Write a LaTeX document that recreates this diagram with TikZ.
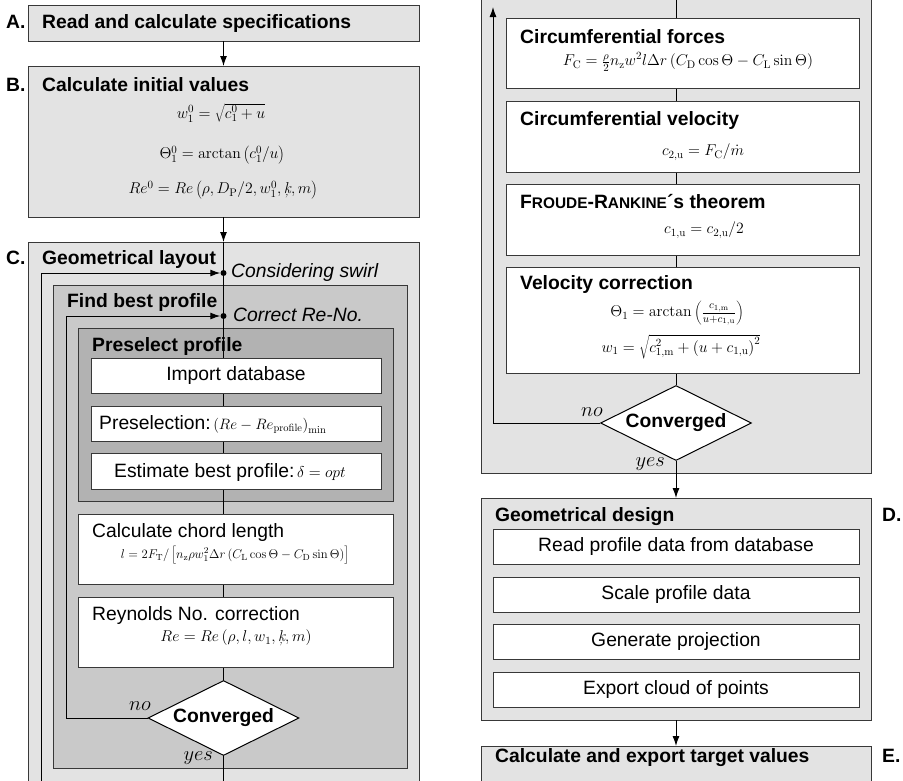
\RequirePackage{fix-cm}
\documentclass[tikz,border=0pt]{standalone}
\usepackage[no-math]{fontspec}
\setmainfont{Liberation Sans}
\usetikzlibrary{arrows.meta,shapes.geometric}
\definecolor{shadeA}{gray}{0.89}
\definecolor{shadeB}{gray}{0.79}
\definecolor{shadeC}{gray}{0.70}
\definecolor{edgegray}{gray}{0.22}
\newcommand{\txtsize}{\fontsize{19.3}{23}\selectfont}
\newcommand{\eqsize}{\fontsize{15.7}{19}\selectfont}
\newcommand{\ineqsize}{\fontsize{15}{18}\selectfont}
\newcommand{\smeqsize}{\fontsize{12.7}{15}\selectfont}
\newcommand{\capsize}{\fontsize{15.4}{18}\selectfont}
\newcommand{\roughk}{\hbox{\fontfamily{lmr}\itshape ķ}}
\pgfdeclarelayer{panels}
\pgfdeclarelayer{wires}
\pgfsetlayers{panels,wires,main}
\tikzset{
  panel/.style={rectangle, draw=edgegray, line width=1pt, anchor=north west, inner sep=0pt, outer sep=0pt},
  stepbox/.style={panel, fill=white, font=\txtsize},
  head/.style={anchor=base west, inner sep=0pt, font=\txtsize\bfseries},
  note/.style={anchor=base west, inner sep=0pt, font=\txtsize\itshape},
  plainlbl/.style={anchor=base west, inner sep=0pt, font=\txtsize},
  eq/.style={inner sep=0pt, font=\eqsize},
  flow/.style={line width=1pt, draw=black},
  arr/.style={flow, -{Latex[length=10pt,width=7pt]}},
  decision/.style={diamond, draw=black, line width=1pt, fill=white, aspect=2, inner sep=0pt,
    minimum width=151pt, minimum height=75pt, font=\txtsize\bfseries},
  branch/.style={inner sep=0pt, font=\fontsize{20.5}{24}\selectfont},
  joint/.style={circle, fill=black, inner sep=0pt, minimum size=6pt},
}
\begin{document}
\begin{tikzpicture}[x=1pt,y=-1pt]
\useasboundingbox (0,0) rectangle (903,780);
\clip (0,0) rectangle (903,780);

% ---- grey containers ----
\begin{pgfonlayer}{panels}
  \node[panel, fill=shadeA, minimum width=391pt, minimum height=36pt]  (spec)   at (28,5)   {};
  \node[panel, fill=shadeA, minimum width=391pt, minimum height=151pt] (init)   at (28,66)  {};
  \node[panel, fill=shadeA, minimum width=391pt, minimum height=600pt] (layout) at (28,242) {};
  \node[panel, fill=shadeB, minimum width=354pt, minimum height=483pt] (best)   at (53,285) {};
  \node[panel, fill=shadeC, minimum width=315pt, minimum height=173pt] (presel) at (78,328) {};
  \node[panel, fill=shadeA, minimum width=390pt, minimum height=493pt] (swirl)  at (481,-20) {};
  \node[panel, fill=shadeA, minimum width=390pt, minimum height=222pt] (design) at (481,498) {};
  \node[panel, fill=shadeA, minimum width=390pt, minimum height=60pt]  (target) at (481,746) {};
\end{pgfonlayer}

% ---- white process steps, left column ----
\node[stepbox, minimum width=290pt, minimum height=35pt] (importdb)  at (91,358) {Import database};
\node[stepbox, minimum width=290pt, minimum height=35pt] (prefilter) at (91,406) {};
\node[stepbox, minimum width=290pt, minimum height=36pt] (estimate)  at (91,453) {};
\node[stepbox, minimum width=315pt, minimum height=70pt] (chord)     at (78,514) {};
\node[stepbox, minimum width=315pt, minimum height=70pt] (reynolds)  at (78,597) {};
\node[decision] (conv1) at (223.5,718) {Converged};

% ---- white process steps, right column ----
\node[stepbox, minimum width=353pt, minimum height=70pt]  (cforce) at (506,18)  {};
\node[stepbox, minimum width=353pt, minimum height=71pt]  (cvel)   at (506,101) {};
\node[stepbox, minimum width=353pt, minimum height=71pt]  (froude) at (506,184) {};
\node[stepbox, minimum width=353pt, minimum height=106pt] (vcorr)  at (506,267) {};
\node[decision] (conv2) at (676,423) {Converged};
\node[stepbox, minimum width=366pt, minimum height=35pt] (readdb) at (493,529) {Read profile data from database};
\node[stepbox, minimum width=366pt, minimum height=35pt] (scale)  at (493,577) {Scale profile data};
\node[stepbox, minimum width=366pt, minimum height=35pt] (proj)   at (493,624) {Generate projection};
\node[stepbox, minimum width=366pt, minimum height=35pt] (cloud)  at (493,672) {Export cloud of points};

% ---- junctions and loose ends ----
\node[joint] (jswirl) at (223.5,273) {};
\node[joint] (jre)    at (223.5,316) {};
\coordinate (leftfoot)  at (223.5,790);
\coordinate (swirlfoot) at (41,790);
\coordinate (reloop)    at (66,316);
\coordinate (righttop)  at (676,-10);
\coordinate (loopend)   at (493,7);

% ---- connectors ----
\begin{pgfonlayer}{wires}
  \draw[arr] (spec.south) -- (init.north);
  \draw[arr] (init.south) -- (layout.north);
  \draw[flow] (layout.north) -- (leftfoot);
  \draw[arr] (swirlfoot) |- (jswirl);
  \draw[arr] (conv1.west) -| (reloop) -- (jre);
  \draw[flow] (righttop) -- (conv2.north);
  \draw[arr] (conv2.west) -| (loopend);
  \draw[arr] (conv2.south) -- (design.north);
  \draw[arr] (design.south) -- (target.north);
\end{pgfonlayer}

% ---- stage letters ----
\node[head] (labA) at (6,28)  {A.};
\node[head] (labB) at (6,91)  {B.};
\node[head] (labC) at (6,264) {C.};
\node[head] (labD) at (882,521) {D.};
\node[head] (labE) at (882,762) {E.};

% ---- headings ----
\node[head] (specT)   at (42,28)  {Read and calculate specifications};
\node[head] (initT)   at (42,91)  {Calculate initial values};
\node[head] (layoutT) at (42,264) {Geometrical layout};
\node[head] (bestT)   at (67,307) {Find best profile};
\node[head] (preselT) at (92,351) {Preselect profile};
\node[note] (swirlN)  at (231,277) {Considering swirl};
\node[note] (reN)     at (233,321) {Correct Re-No.};
\node[plainlbl] (chordT) at (92,537) {Calculate chord length};
\node[plainlbl] (reynT)  at (92,620) {Reynolds No. correction};
\node[plainlbl] (prefT)  at (99,429) {Preselection:{\ineqsize$\,\left(Re - Re_{\mathrm{profile}}\right)_{\mathrm{min}}$}};
\node[plainlbl] (estT)   at (114,477) {Estimate best profile:{\eqsize$\,\delta = opt$}};
\node[head] (cforceT) at (520,43)  {Circumferential forces};
\node[head] (cvelT)   at (520,125) {Circumferential velocity};
\node[head] (froudeT) at (520,208) {F{\capsize ROUDE}-R{\capsize ANKINE}´s theorem};
\node[head] (vcorrT)  at (520,289) {Velocity correction};
\node[head] (designT) at (495,521) {Geometrical design};
\node[head] (targetT) at (495,762) {Calculate and export target values};

% ---- formulas ----
\node[eq] (eqw0)  at (221,113) {$w_1^0 = \sqrt{c_1^0 + u}$};
\node[eq] (eqth0) at (222,155) {$\Theta_1^0 = \arctan\left(c_1^0/u\right)$};
\node[eq] (eqre0) at (223,190) {$Re^0 = Re\left(\rho, D_{\mathrm{P}}/2, w_1^0, \roughk, m\right)$};
\node[eq, font=\smeqsize] (eqchord) at (235,555)
  {$l = 2F_{\mathrm{T}}/\left[n_{\mathrm{z}}\rho w_1^2\Delta r\left(C_{\mathrm{L}}\cos\Theta - C_{\mathrm{D}}\sin\Theta\right)\right]$};
\node[eq] (eqre) at (236,638) {$Re = Re\left(\rho, l, w_1, \roughk, m\right)$};
\node[eq] (eqfc) at (688,62)
  {$F_{\mathrm{C}} = \frac{\rho}{2} n_{\mathrm{z}} w^2 l \Delta r\left(C_{\mathrm{D}}\cos\Theta - C_{\mathrm{L}}\sin\Theta\right)$};
\node[eq] (eqc2) at (703,152) {$c_{2,\mathrm{u}} = F_{\mathrm{C}}/\dot{m}$};
\node[eq] (eqc1) at (704,230) {$c_{1,\mathrm{u}} = c_{2,\mathrm{u}}/2$};
\node[eq] (eqth1) at (677,313) {$\Theta_1 = \arctan\left(\frac{c_{1,\mathrm{m}}}{u+c_{1,\mathrm{u}}}\right)$};
\node[eq] (eqw1)  at (681,347) {$w_1 = \sqrt{c_{1,\mathrm{m}}^2 + \left(u + c_{1,\mathrm{u}}\right)^2}$};

% ---- branch labels ----
\node[branch, anchor=base east] (no1)  at (151,710) {$no$};
\node[branch, anchor=base east] (yes1) at (213,760) {$yes$};
\node[branch, anchor=base east] (no2)  at (603,416) {$no$};
\node[branch, anchor=base east] (yes2) at (665,466) {$yes$};
\end{tikzpicture}
\end{document}
